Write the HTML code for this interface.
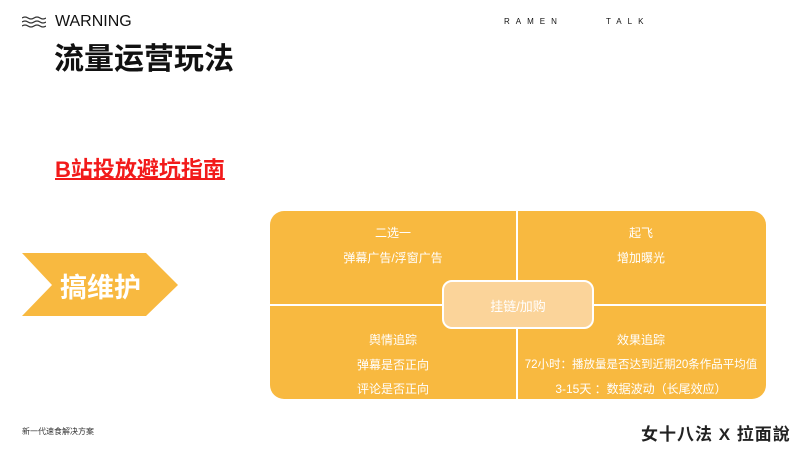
<!DOCTYPE html>
<html><head><meta charset="utf-8"><style>
body{margin:0;width:800px;height:450px;background:#fff;position:relative;overflow:hidden;font-family:"Liberation Sans","Noto Sans CJK SC",sans-serif}
.a{position:absolute;white-space:nowrap}
.t{position:absolute;color:#fff;font-size:12px;text-align:center;white-space:nowrap;transform:translateX(-50%)}
</style></head><body>
<svg class="a" style="left:22px;top:16px" width="24" height="12" viewBox="0 0 24 12">
<path d="M0 2 q3 -2 6 0 t6 0 t6 0 t6 0 M0 6 q3 -2 6 0 t6 0 t6 0 t6 0 M0 10 q3 -2 6 0 t6 0 t6 0 t6 0" stroke="#333" stroke-width="1.3" fill="none"/></svg>
<div class="a" style="left:55px;top:13px;font-size:16px;color:#111">WARNING</div>
<div class="a" style="left:54px;top:34px;font-size:30px;font-weight:bold;color:#111">流量运营玩法</div>
<div class="a" style="left:504px;top:17px;font-size:8px;letter-spacing:6px;color:#111">RAMEN</div>
<div class="a" style="left:606px;top:17px;font-size:8px;letter-spacing:6px;color:#111">TALK</div>
<div class="a" style="left:55px;top:152px;font-size:22px;font-weight:bold;color:#f21a1a;text-decoration:underline;text-decoration-thickness:2px">B站投放避坑指南</div>
<svg class="a" style="left:0;top:0" width="800" height="450">
<polygon points="22,253 146,253 178,285 146,316 22,316 52,285" fill="#f8b940"/>
<rect x="270" y="211" width="496" height="188" rx="14" fill="#f8b940"/>
<line x1="517" y1="211" x2="517" y2="399" stroke="#fff" stroke-width="2"/>
<line x1="270" y1="305" x2="766" y2="305" stroke="#fff" stroke-width="2"/>
<rect x="443" y="281" width="150" height="47" rx="9" fill="#fbd49a" stroke="#fff" stroke-width="2"/>
</svg>
<div class="a" style="left:60px;top:266px;font-size:27px;font-weight:bold;color:#fff">搞维护</div>
<div class="t" style="left:393px;top:224px">二选一</div>
<div class="t" style="left:393px;top:249px">弹幕广告/浮窗广告</div>
<div class="t" style="left:641px;top:224px">起飞</div>
<div class="t" style="left:641px;top:249px">增加曝光</div>
<div class="t" style="left:518px;top:296px;font-size:13px">挂链/加购</div>
<div class="t" style="left:393px;top:331px">舆情追踪</div>
<div class="t" style="left:393px;top:356px">弹幕是否正向</div>
<div class="t" style="left:393px;top:380px">评论是否正向</div>
<div class="t" style="left:641px;top:331px">效果追踪</div>
<div class="t" style="left:641px;top:356px;font-size:11.5px">72小时：播放量是否达到近期20条作品平均值</div>
<div class="t" style="left:641px;top:380px">3-15天 ：数据波动（长尾效应）</div>
<div class="a" style="left:22px;top:426px;font-size:8px;color:#333">新一代速食解决方案</div>
<div class="a" style="left:641px;top:420px;font-size:17px;font-weight:bold;color:#222;letter-spacing:1px">女十八法 X 拉面說</div>
</body></html>
